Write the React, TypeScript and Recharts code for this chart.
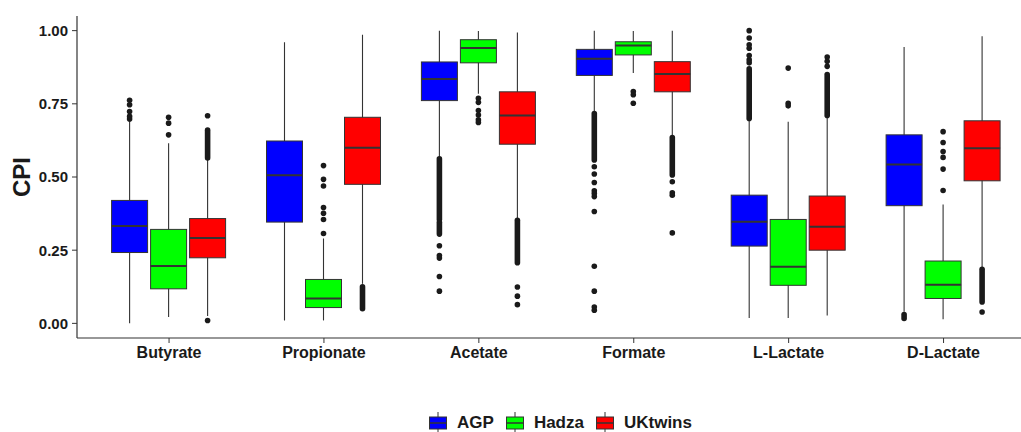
import { Bar, ComposedChart, Label, Legend, XAxis, YAxis } from "recharts";

const categories = ["Butyrate", "Propionate", "Acetate", "Formate", "L-Lactate", "D-Lactate"];
const groups = ["AGP", "Hadza", "UKtwins"];
const colors = ["#0000FF", "#00FF00", "#FF0000"];
const yTicks = [0, 0.25, 0.5, 0.75, 1];

// [lower whisker, q1, median, q3, upper whisker]
const agpBoxes = [
  [0.0, 0.242, 0.333, 0.42, 0.695],
  [0.01, 0.346, 0.506, 0.623, 0.96],
  [0.564, 0.761, 0.835, 0.893, 1.0],
  [0.72, 0.847, 0.904, 0.936, 1.0],
  [0.018, 0.264, 0.347, 0.438, 0.695],
  [0.04, 0.402, 0.543, 0.644, 0.944],
];
const hadzaBoxes = [
  [0.022, 0.118, 0.196, 0.321, 0.615],
  [0.01, 0.054, 0.085, 0.15, 0.29],
  [0.784, 0.89, 0.941, 0.969, 0.999],
  [0.855, 0.917, 0.949, 0.962, 0.999],
  [0.018, 0.13, 0.193, 0.355, 0.689],
  [0.014, 0.085, 0.132, 0.213, 0.406],
];
const ukBoxes = [
  [0.025, 0.224, 0.292, 0.358, 0.564],
  [0.135, 0.475, 0.6, 0.704, 0.986],
  [0.355, 0.612, 0.71, 0.791, 0.994],
  [0.638, 0.791, 0.852, 0.894, 1.0],
  [0.027, 0.25, 0.33, 0.435, 0.707],
  [0.187, 0.487, 0.598, 0.692, 0.981],
];

// single outlier points
const agpOutliers = [
  [0.698, 0.707, 0.724, 0.747, 0.762],
  [],
  [0.265, 0.232, 0.223, 0.16, 0.11],
  [0.535, 0.51, 0.481, 0.453, 0.444, 0.433, 0.382, 0.195, 0.11, 0.056, 0.045],
  [0.89, 0.9, 0.915, 0.94, 0.952, 0.975, 1.0],
  [],
];
const hadzaOutliers = [
  [0.644, 0.684, 0.704],
  [0.307, 0.355, 0.376, 0.396, 0.469, 0.492, 0.539],
  [0.769, 0.755, 0.727, 0.712, 0.695, 0.686],
  [0.792, 0.781, 0.752],
  [0.743, 0.752, 0.872],
  [0.454, 0.527, 0.567, 0.587, 0.618, 0.655],
];
const ukOutliers = [
  [0.01, 0.709],
  [],
  [0.124, 0.093, 0.064],
  [0.484, 0.446, 0.438, 0.309],
  [0.878, 0.895, 0.91],
  [0.039],
];

// ranges where outlier points overlap into a solid run
const agpRuns = [[], [], [[0.355, 0.562], [0.305, 0.345]], [[0.558, 0.717]], [[0.7, 0.87]], [[0.017, 0.03]]];
const hadzaRuns = [[], [], [], [], [], []];
const ukRuns = [[[0.565, 0.66]], [[0.05, 0.125]], [[0.207, 0.352]], [[0.507, 0.635]], [[0.71, 0.85]], [[0.073, 0.185]]];

const boxes = [agpBoxes, hadzaBoxes, ukBoxes];
const outliers = [agpOutliers, hadzaOutliers, ukOutliers];
const runs = [agpRuns, hadzaRuns, ukRuns];

const data = categories.map((name, i) => {
  const row: any = { name };
  groups.forEach((g, k) => {
    row[g] = { box: boxes[k][i], out: outliers[k][i], runs: runs[k][i] };
  });
  return row;
});

const FONT = "'Liberation Sans', Arial, sans-serif";
const INK = "#333333";

function makeBox(g: string) {
  return (props: any) => {
    const { x, y, width, height, payload } = props;
    const s = payload[g];
    const [lo, q1, med, q3, hi] = s.box;
    const top = Math.min(y, y + height);
    const h = Math.abs(height);
    const k = h / (q3 - q1);
    const py = (v: number) => top + (q3 - v) * k;
    const cx = x + width / 2;
    const fill = colors[groups.indexOf(g)];
    return (
      <g>
        <line x1={cx} x2={cx} y1={py(hi)} y2={py(lo)} stroke={INK} strokeWidth={1.1} />
        <rect x={x} y={top} width={width} height={h} fill={fill} stroke={INK} strokeWidth={1} />
        <line x1={x} x2={x + width} y1={py(med)} y2={py(med)} stroke={INK} strokeWidth={2} />
        {s.runs.map((r: number[], i: number) => (
          <line key={"r" + i} x1={cx} x2={cx} y1={py(r[1])} y2={py(r[0])} stroke="#1a1a1a" strokeWidth={5.6} strokeLinecap="round" />
        ))}
        {s.out.map((v: number, i: number) => (
          <circle key={"o" + i} cx={cx} cy={py(v)} r={2.8} fill="#1a1a1a" />
        ))}
      </g>
    );
  };
}

function LegendContent() {
  return (
    <div style={{ display: "flex", justifyContent: "center", alignItems: "center", paddingLeft: 112, fontFamily: FONT }}>
      {groups.map((g, i) => (
        <div key={g} style={{ display: "flex", alignItems: "center", marginRight: 12 }}>
          <svg width={18} height={22}>
            <line x1={9} x2={9} y1={0} y2={22} stroke={INK} strokeWidth={1} />
            <rect x={0.5} y={5} width={17} height={12} fill={colors[i]} stroke={INK} strokeWidth={1} />
            <line x1={0.5} x2={17.5} y1={11} y2={11} stroke={INK} strokeWidth={1.5} />
          </svg>
          <span style={{ marginLeft: 10, fontSize: 17, fontWeight: 700, color: "#1a1a1a" }}>{g}</span>
        </div>
      ))}
    </div>
  );
}

export default function App() {
  return (
    <div style={{ position: "fixed", left: 0, top: 0, width: 1021, height: 432, background: "#fff", overflow: "hidden" }}>
      <ComposedChart width={1021} height={432} data={data} margin={{ top: 16, right: 0, bottom: 64, left: 0 }} barGap={3}>
        <XAxis
          dataKey="name"
          height={30}
          padding={{ left: 14.6, right: 0 }}
          axisLine={{ stroke: INK, strokeWidth: 1.2 }}
          tickLine={{ stroke: INK }}
          tickSize={5}
          tickMargin={4}
          tick={{ fill: "#1a1a1a", fontSize: 16, fontWeight: 700, fontFamily: FONT }}
          interval={0}
        />
        <YAxis
          width={77}
          domain={[-0.05, 1.05]}
          allowDataOverflow
          ticks={yTicks}
          tickFormatter={(v: number) => v.toFixed(2)}
          axisLine={{ stroke: INK, strokeWidth: 1.2 }}
          tickLine={{ stroke: INK }}
          tickSize={5}
          tickMargin={4}
          tick={{ fill: "#1a1a1a", fontSize: 15, fontWeight: 700, fontFamily: FONT }}
        >
          <Label
            content={({ viewBox }: any) => {
              const cy = viewBox.y + viewBox.height / 2;
              return (
                <text x={21} y={cy} transform={`rotate(-90, 21, ${cy})`} textAnchor="middle" dominantBaseline="central" fontSize={24} fontWeight={700} fontFamily={FONT} fill="#1a1a1a">
                  CPI
                </text>
              );
            }}
          />
        </YAxis>
        <Legend
          layout="horizontal"
          verticalAlign="middle"
          align="center"
          content={() => <LegendContent />}
          wrapperStyle={{ position: "absolute", top: 412, left: 0, width: 1021 }}
        />
        {groups.map((g) => (
          <Bar
            key={g}
            name={g}
            dataKey={(row: any) => [row[g].box[1], row[g].box[3]]}
            barSize={36}
            shape={makeBox(g)}
            isAnimationActive={false}
          />
        ))}
      </ComposedChart>
    </div>
  );
}
